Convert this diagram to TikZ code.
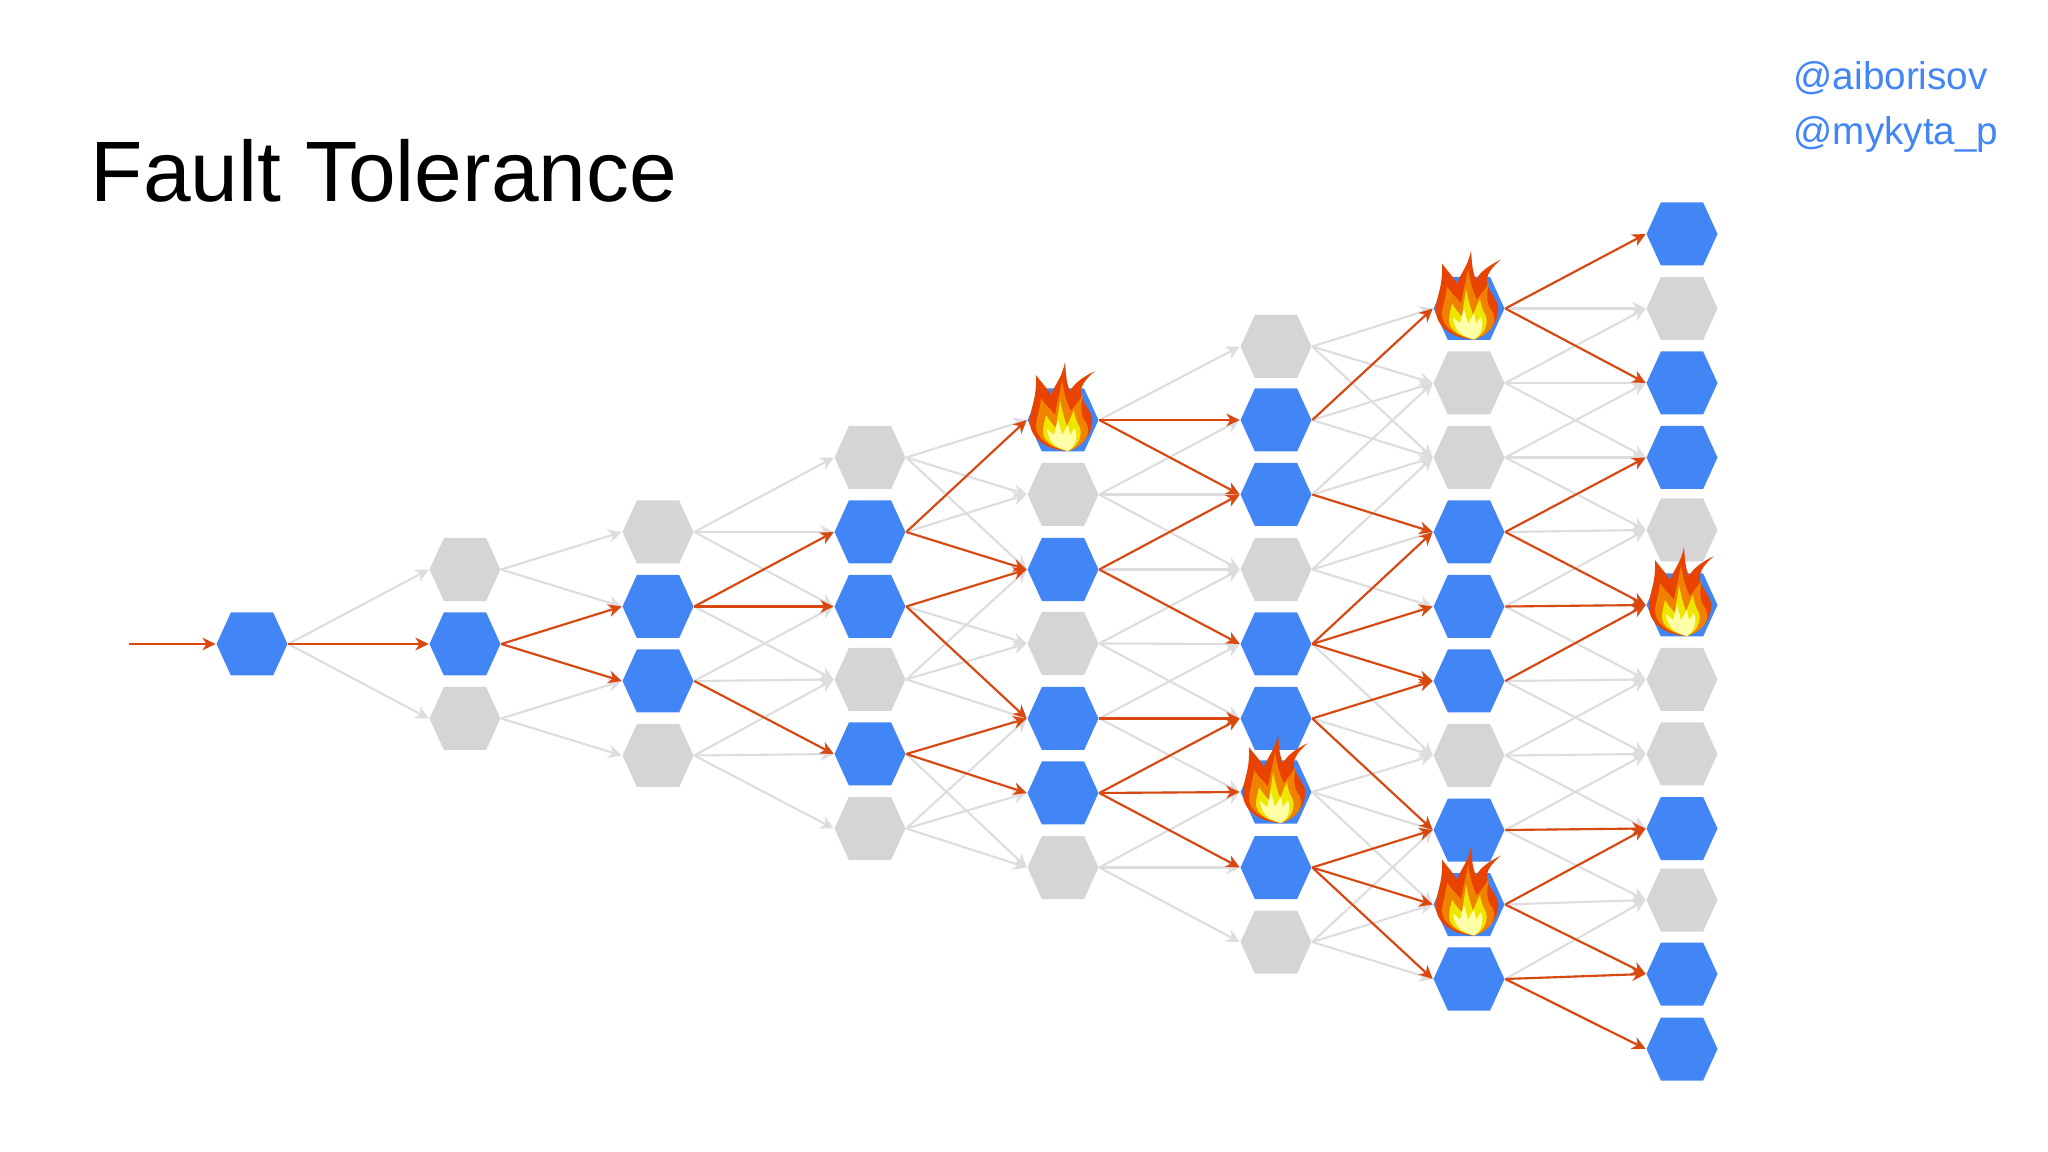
\documentclass[tikz,border=0pt]{standalone}
\usepackage{fontspec}
\setmainfont{Liberation Sans}
\usetikzlibrary{arrows.meta,shapes.symbols}
\definecolor{hexblue}{HTML}{4285F4}
\definecolor{hexgray}{HTML}{D5D5D7}
\definecolor{linkgray}{HTML}{DDDDDF}
\definecolor{linkred}{HTML}{D9480F}
\definecolor{flameouter}{HTML}{E84300}
\definecolor{flameorange}{HTML}{F08200}
\definecolor{flameyellow}{HTML}{EFE600}
\definecolor{flamepale}{HTML}{FFFFA8}
\tikzset{
	hexnode/.style={shape=signal,signal to=east and west,signal pointer angle=131,
		minimum width=0.71cm,minimum height=0.63cm,inner sep=0pt},
	live/.style={hexnode,fill=hexblue},
	idle/.style={hexnode,fill=hexgray},
	graylink/.style={draw=linkgray,line width=0.6pt,-{Stealth[length=3.8pt,width=3.8pt,inset=1.2pt]}},
	redlink/.style={draw=linkred,line width=0.6pt,-{Stealth[length=3.8pt,width=3.6pt,inset=1.2pt]}},
	flame/.pic={
		\begin{scope}[y=1cm]
		\fill[flameouter] (0.05,-0.31) .. controls (-0.17,-0.30) and (-0.34,-0.18) .. (-0.33,0.00)
			.. controls (-0.33,0.12) and (-0.26,0.20) .. (-0.27,0.45)
			.. controls (-0.22,0.38) and (-0.16,0.32) .. (-0.12,0.25)
			.. controls (-0.08,0.36) and (-0.01,0.42) .. (0.02,0.58)
			.. controls (0.03,0.46) and (0.03,0.38) .. (0.07,0.29)
			.. controls (0.12,0.38) and (0.22,0.44) .. (0.32,0.49)
			.. controls (0.24,0.42) and (0.16,0.34) .. (0.18,0.24)
			.. controls (0.23,0.12) and (0.31,0.06) .. (0.29,-0.04)
			.. controls (0.27,-0.18) and (0.16,-0.28) .. (0.05,-0.31) -- cycle;
		\fill[flameorange] (0.05,-0.31) .. controls (-0.14,-0.28) and (-0.27,-0.18) .. (-0.27,-0.06)
			.. controls (-0.27,0.02) and (-0.23,0.10) .. (-0.22,0.22)
			.. controls (-0.18,0.15) and (-0.11,0.10) .. (-0.08,0.05)
			.. controls (-0.06,0.18) and (-0.03,0.26) .. (-0.01,0.40)
			.. controls (0.01,0.28) and (0.03,0.18) .. (0.08,0.09)
			.. controls (0.12,0.15) and (0.16,0.18) .. (0.20,0.26)
			.. controls (0.18,0.16) and (0.17,0.08) .. (0.21,0.00)
			.. controls (0.26,-0.06) and (0.27,-0.12) .. (0.22,-0.20)
			.. controls (0.17,-0.26) and (0.10,-0.30) .. (0.05,-0.31) -- cycle;
		\fill[flameyellow] (0.05,-0.31) .. controls (-0.08,-0.28) and (-0.20,-0.22) .. (-0.20,-0.12)
			.. controls (-0.20,-0.06) and (-0.18,0.00) .. (-0.17,0.05)
			.. controls (-0.14,0.00) and (-0.11,-0.04) .. (-0.07,-0.08)
			.. controls (-0.06,0.02) and (-0.04,0.10) .. (-0.03,0.20)
			.. controls (-0.01,0.10) and (0.01,0.02) .. (0.04,-0.06)
			.. controls (0.06,-0.02) and (0.08,0.04) .. (0.11,0.10)
			.. controls (0.12,0.02) and (0.14,-0.02) .. (0.17,-0.08)
			.. controls (0.19,-0.16) and (0.16,-0.26) .. (0.05,-0.31) -- cycle;
		\fill[flamepale] (0.05,-0.31) .. controls (-0.05,-0.28) and (-0.14,-0.25) .. (-0.16,-0.09)
			-- (-0.09,-0.15) -- (-0.05,0.00) -- (-0.01,-0.15) -- (0.05,-0.05) -- (0.07,-0.15) -- (0.12,-0.08)
			.. controls (0.15,-0.16) and (0.13,-0.26) .. (0.05,-0.31) -- cycle;
		\end{scope}
	}
}

\begin{document}
\begin{tikzpicture}[y=-1cm]
	\useasboundingbox (0,0) rectangle (20.48,11.52);

	\node[anchor=base west,inner sep=0pt,font=\fontsize{24.4pt}{24.4pt}\selectfont] (title) at (0.90,2.02) {Fault Tolerance};
	\node[anchor=base west,inner sep=0pt,text=hexblue,font=\fontsize{11pt}{11pt}\selectfont] (handlea) at (17.93,0.90) {@aiborisov};
	\node[anchor=base west,inner sep=0pt,text=hexblue,font=\fontsize{11pt}{11pt}\selectfont] (handleb) at (17.93,1.45) {@mykyta\_p};

	% columns of hexagons, left to right
	\foreach \c/\x/\rows in {
		0/2.52/{6.44/live},
		1/4.65/{5.695/idle,6.44/live,7.185/idle},
		2/6.58/{5.32/idle,6.065/live,6.81/live,7.555/idle},
		3/8.70/{4.575/idle,5.32/live,6.065/live,6.795/idle,7.54/live,8.285/idle},
		4/10.63/{4.20/live,4.945/idle,5.695/live,6.435/idle,7.185/live,7.93/live,8.675/idle},
		5/12.76/{3.465/idle,4.20/live,4.945/live,5.695/idle,6.44/live,7.185/live,7.92/live,8.675/live,9.42/idle},
		6/14.69/{3.085/live,3.83/idle,4.575/idle,5.32/live,6.065/live,6.81/live,7.555/idle,8.30/live,9.045/live,9.79/live},
		7/16.82/{2.34/live,3.085/idle,3.83/live,4.575/live,5.30/idle,6.05/live,6.795/idle,7.54/idle,8.285/live,9.00/idle,9.74/live,10.49/live}}
		\foreach \y/\k [count=\i from 0] in \rows
			\node[\k] (c\c n\i) at (\x,\y) {};

	% every link
	\foreach \a/\b/\links in {
		0/1/{0/{0,1,2}},
		1/2/{0/{0,1},1/{1,2},2/{2,3}},
		2/3/{0/{0,1,2},1/{1,2,3},2/{2,3,4},3/{3,4,5}},
		3/4/{0/{0,1,2},1/{0,1,2},2/{2,3,4},3/{2,3,4},4/{4,5,6},5/{4,5,6}},
		4/5/{0/{0,1,2},1/{1,2,3},2/{2,3,4},3/{3,4,5},4/{4,5,6},5/{5,6,7},6/{6,7,8}},
		5/6/{0/{0,1,2},1/{0,1,2},2/{1,2,3},3/{2,3,4},4/{3,4,5,6},5/{5,6,7},6/{6,7,8},7/{7,8,9},8/{7,8,9}},
		6/7/{0/{0,1,2},1/{1,2,3},2/{2,3,4},3/{3,4,5},4/{4,5,6},5/{5,6,7},6/{6,7,8},7/{7,8,9},8/{8,9,10},9/{9,10,11}}}
		\foreach \s/\ts in \links
			\foreach \t in \ts
				\draw[graylink] (c\a n\s.east) -- (c\b n\t.west);

	% links that carry traffic
	\coordinate (start) at (1.29,6.44);
	\draw[redlink] (start) -- (c0n0.west);
	\foreach \a/\b/\links in {
		0/1/{0/{1}},
		1/2/{1/{1,2}},
		2/3/{1/{1,2},2/{4}},
		3/4/{1/{0,2},2/{2,4},4/{4,5}},
		4/5/{0/{1,2},2/{2,4},4/{5},5/{5,6,7}},
		5/6/{1/{0},2/{3},4/{3,4,5},5/{5,7},7/{7,8,9}},
		6/7/{0/{0,2},3/{3,5},4/{5},5/{5},7/{8},8/{8,10},9/{10,11}}}
		\foreach \s/\ts in \links
			\foreach \t in \ts
				\draw[redlink] (c\a n\s.east) -- (c\b n\t.west);

	% failed nodes
	\foreach \f in {c4n0,c5n6,c6n0,c6n8,c7n5}
		\pic at (\f) {flame};
\end{tikzpicture}
\end{document}
